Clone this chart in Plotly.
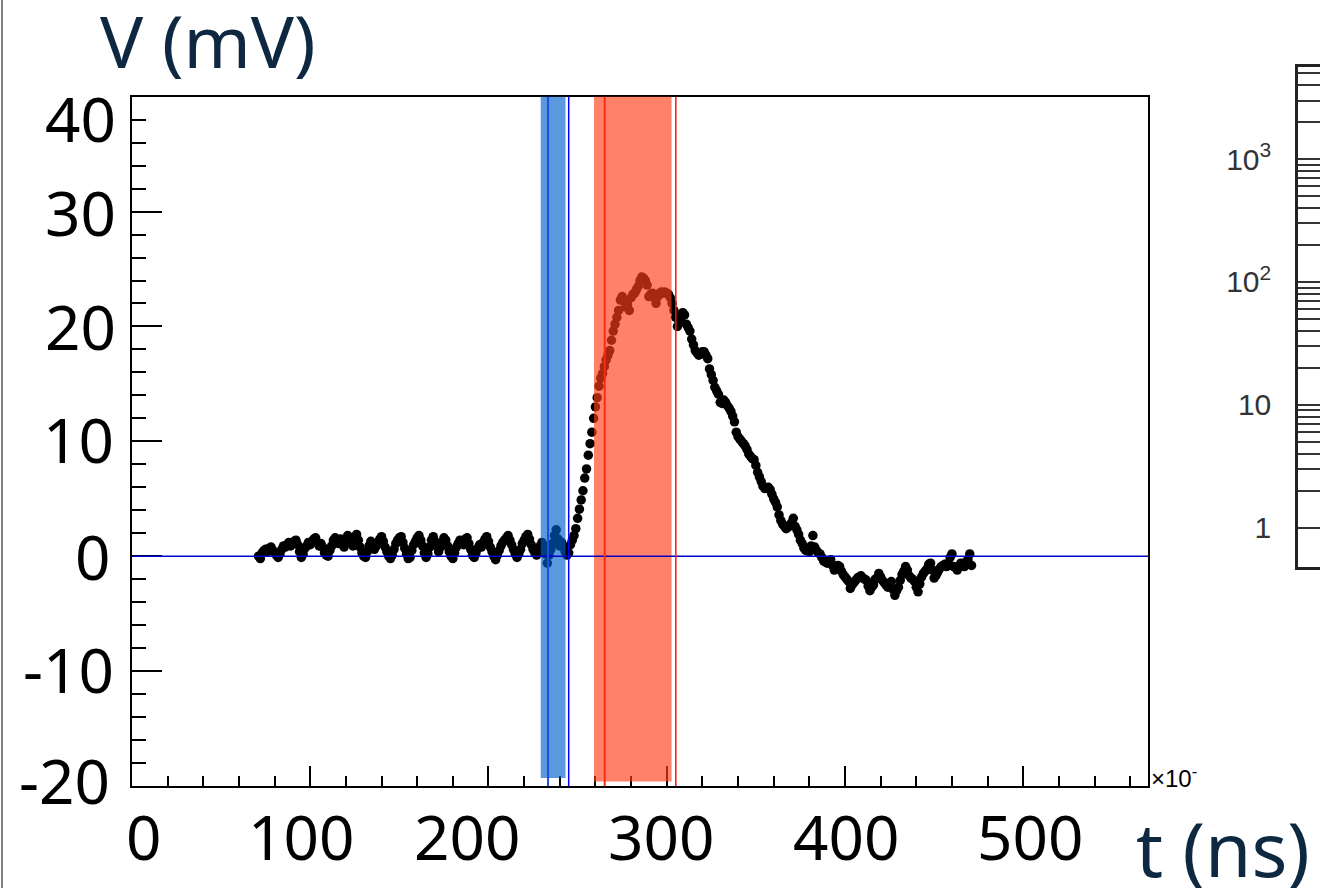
import plotly.graph_objects as go

# ---------------- data ----------------
t_start_ns = 71
t_step_ns = 1
voltage_mV = [
    # 71..80
    0.0, -0.2, 0.3, 0.5, 0.6, 0.4, 0.7, 0.8, 0.5, 0.3,
    # 81..90
    0.1, -0.1, 0.2, 0.6, 0.9, 0.8, 1.0, 1.2, 0.9, 1.1,
    # 91..100
    1.3, 1.4, 1.0, 0.4, -0.1, 0.2, 0.7, 0.9, 1.2, 1.0,
    # 101..110
    1.3, 1.5, 1.6, 1.2, 0.9, 1.1, 0.8, 0.3, 0.1, 0.0,
    # 111..120
    0.5, 0.9, 1.4, 1.6, 1.3, 1.1, 1.5, 1.2, 0.8, 1.4,
    # 121..130
    1.8, 1.6, 1.2, 0.9, 1.5, 1.9, 1.4, 0.8, 0.3, 0.0,
    # 131..140
    -0.1, 0.4, 0.9, 1.3, 1.0, 0.6, 0.9, 1.2, 1.5, 1.7,
    # 141..150
    1.3, 0.8, 0.4, 0.0, -0.2, 0.1, 0.6, 1.1, 1.4, 1.6,
    # 151..160
    1.7, 1.2, 0.7, 0.2, -0.2, -0.1, 0.5, 1.0, 1.3, 1.6,
    # 161..170
    1.8, 1.4, 0.9, 0.3, -0.1, 0.2, 0.8, 1.4, 1.7, 1.3,
    # 171..180
    0.9, 0.4, 0.8, 1.2, 1.6, 1.4, 0.9, 0.4, 0.0, -0.2,
    # 181..190
    0.3, 0.8, 1.1, 1.4, 1.2, 1.0, 1.5, 1.6, 1.1, 0.6,
    # 191..200
    0.1, -0.1, 0.3, 0.7, 1.0, 0.8, 1.2, 1.5, 1.7, 1.3,
    # 201..210
    0.8, 0.4, 0.0, -0.3, 0.1, 0.5, 0.9, 1.2, 1.4, 1.6,
    # 211..220
    1.8, 1.4, 1.0, 0.6, 0.2, -0.1, 0.2, 0.6, 1.1, 1.4,
    # 221..230
    1.7, 1.9, 1.5, 1.0, 0.6, 0.3, 0.1, 0.4, 0.9, 1.2,
    # 231..240
    0.9, 0.2, -0.6, 0.1, 0.6, 1.1, 1.8, 2.3, 1.5, 0.9,
    # 241..250
    1.2, 0.8, 0.4, 0.1, 0.3, 1.0, 1.4, 1.8, 2.4, 3.3,
    # 251..260
    4.1, 4.9, 5.7, 6.8, 7.6, 8.8, 9.8, 10.8, 12.0, 13.0,
    # 261..270
    13.8, 14.8, 15.5, 15.9, 16.5, 17.1, 17.5, 17.9, 18.8, 19.6,
    # 271..280
    20.2, 20.8, 21.4, 22.3, 22.6, 22.2, 21.7, 21.9, 21.4, 22.5,
    # 281..290
    22.8, 22.9, 23.2, 23.5, 24.0, 24.3, 24.2, 24.0, 23.6, 22.6,
    # 291..300
    22.8, 22.9, 22.5, 22.0, 22.6, 22.9, 23.0, 22.9, 23.0, 22.9,
    # 301..310
    22.8, 22.5, 22.0, 21.4, 20.8, 20.0, 20.3, 20.8, 21.2, 21.0,
    # 311..320
    20.2, 19.9, 19.6, 18.9, 18.4, 17.9, 17.7, 17.5, 17.6, 17.8,
    # 321..330
    17.8, 17.5, 17.2, 16.3, 15.8, 15.3, 14.7, 14.4, 14.1, 13.4,
    # 331..340
    13.3, 13.6, 13.4, 13.1, 12.9, 12.6, 12.2, 11.7, 10.8, 10.4,
    # 341..350
    10.2, 10.0, 9.8, 9.6, 9.3, 8.9, 8.7, 8.5, 8.4, 7.9,
    # 351..360
    7.3, 6.9, 6.5, 6.1, 5.9, 5.9, 6.0, 5.8, 5.4, 5.0,
    # 361..370
    4.7, 4.3, 3.6, 3.1, 2.8, 2.6, 2.4, 2.5, 2.7, 2.9,
    # 371..380
    3.3, 2.6, 2.3, 1.9, 1.4, 1.1, 0.7, 0.5, 0.6, 0.4,
    # 381..390
    0.9, 1.8, 0.8, 0.5, 0.3, 0.2, -0.1, -0.4, -0.5, -0.6,
    # 391..400
    -0.4, -0.3, -0.8, -1.2, -1.0, -0.8, -0.9, -1.3, -1.6, -1.8,
    # 401..410
    -2.0, -2.2, -2.8, -2.5, -2.3, -2.1, -1.9, -1.8, -1.7, -1.9,
    # 411..420
    -2.0, -2.1, -2.6, -3.0, -2.7, -2.5, -2.0, -1.9, -1.5, -1.8,
    # 421..430
    -2.1, -2.3, -2.5, -2.7, -2.4, -2.2, -2.9, -3.4, -3.0, -2.7,
    # 431..440
    -2.1, -1.6, -1.3, -0.9, -1.2, -1.7, -1.9, -2.0, -2.2, -2.7,
    # 441..450
    -3.1, -2.4, -1.8, -1.5, -1.3, -1.1, -0.7, -0.6, -1.2, -1.9,
    # 451..460
    -1.7, -1.4, -1.1, -0.9, -0.8, -0.7, -0.9, -0.6, -0.1, 0.2,
    # 461..471
    -0.9, -1.0, -1.2, -0.9, -0.6, -0.7, -0.9, -0.5, -0.3, 0.2, -0.8,
]
time_ns = [t_start_ns + i * t_step_ns for i in range(len(voltage_mV))]

# integration windows (ns) and their marker lines
blue_window_ns = [229.3, 243.2]
blue_window_mV = [-19.3, 40.15]
red_window_ns = [259.2, 302.7]
red_window_mV = [-19.6, 40.2]
blue_lines_ns = [233.4, 245.0]
red_lines_ns = [265.2, 305.1]

x_tick_values = [0, 100, 200, 300, 400, 500]
x_tick_labels = ["0", "100", "200", "300", "400", "500"]
y_tick_values = [40, 30, 20, 10, 0, -10, -20]
y_tick_labels = ["40", "30", "20", "10", "0", "-10", "-20"]

log_decades = [1, 10, 100, 1000]
log_decade_labels = ["1", "10", "10<sup>2</sup>", "10<sup>3</sup>"]
log_sub_multipliers = [2, 3, 4, 5, 6, 7, 8, 9]

# ---------------- figure ----------------
W, H = 1320, 888


def px_x(p):
    return p / W


def px_y(p):
    return 1 - p / H


fig = go.Figure()

fig.add_trace(go.Scatter(
    x=time_ns, y=voltage_mV, mode="markers",
    marker=dict(color="black", size=9.5, line=dict(width=0)),
    xaxis="x", yaxis="y", showlegend=False, hoverinfo="skip",
))

# invisible trace for the partial right-hand log panel
fig.add_trace(go.Scatter(
    x=[0], y=[1], mode="markers", marker=dict(opacity=0),
    xaxis="x2", yaxis="y2", showlegend=False, hoverinfo="skip",
))

shapes = []
# bands (drawn above the points, semi-transparent)
shapes.append(dict(type="rect", xref="x", yref="y", layer="above",
                   x0=blue_window_ns[0], x1=blue_window_ns[1],
                   y0=blue_window_mV[0], y1=blue_window_mV[1],
                   fillcolor="rgba(0,94,203,0.64)", line=dict(width=0)))
shapes.append(dict(type="rect", xref="x", yref="y", layer="above",
                   x0=red_window_ns[0], x1=red_window_ns[1],
                   y0=red_window_mV[0], y1=red_window_mV[1],
                   fillcolor="rgba(254,62,23,0.65)", line=dict(width=0)))
# zero line
shapes.append(dict(type="line", xref="x", yref="y", layer="above",
                   x0=0, x1=570, y0=0, y1=0,
                   line=dict(color="#0000c8", width=1.5)))
# vertical marker lines
shapes.append(dict(type="line", xref="x", yref="y", layer="above",
                   x0=blue_lines_ns[0], x1=blue_lines_ns[0], y0=-20, y1=40,
                   line=dict(color="#1f4fe0", width=2)))
shapes.append(dict(type="line", xref="x", yref="y", layer="above",
                   x0=blue_lines_ns[1], x1=blue_lines_ns[1], y0=-20, y1=40,
                   line=dict(color="#0000ff", width=1.5)))
shapes.append(dict(type="line", xref="x", yref="y", layer="above",
                   x0=red_lines_ns[0], x1=red_lines_ns[0], y0=-20, y1=40,
                   line=dict(color="#ff2a10", width=2)))
shapes.append(dict(type="line", xref="x", yref="y", layer="above",
                   x0=red_lines_ns[1], x1=red_lines_ns[1], y0=-20, y1=40,
                   line=dict(color="#ff1010", width=1.5)))
# slide border on the far left
shapes.append(dict(type="line", xref="paper", yref="paper",
                   x0=px_x(2), x1=px_x(2), y0=0, y1=1,
                   line=dict(color="#808080", width=2)))

annotations = []
label_font = dict(family="Noto Sans", size=62, color="black")
x_label_shift = [11, -9, -21, -6, 1, 7]
for v, lab, dx in zip(x_tick_values, x_tick_labels, x_label_shift):
    annotations.append(dict(x=v, y=px_y(836), xref="x", yref="paper",
                            text=lab, showarrow=False, xanchor="center",
                            yanchor="middle", xshift=dx, font=label_font))
y_label_shift = [-21, 0, 0, 2, 0, 2, 6]
y_label_dx = [0, 0, 0, -2, -6, -2, -6]
for v, lab, dy, dx in zip(y_tick_values, y_tick_labels, y_label_shift, y_label_dx):
    annotations.append(dict(x=px_x(118), y=v, xref="paper", yref="y",
                            text=lab, showarrow=False, xanchor="right",
                            yanchor="middle", yshift=dy, xshift=dx,
                            font=label_font))

title_font = dict(family="Noto Sans", size=72, color="#0e2841")
annotations.append(dict(x=px_x(98), y=px_y(40), xref="paper", yref="paper",
                        text="V (mV)", showarrow=False, xanchor="left",
                        yanchor="middle", font=title_font))
annotations.append(dict(x=px_x(1134), y=px_y(848), xref="paper", yref="paper",
                        text="t (ns)", showarrow=False, xanchor="left",
                        yanchor="middle",
                        font=dict(family="Noto Sans", size=75, color="#0e2841")))
annotations.append(dict(x=px_x(1149), y=px_y(777), xref="paper", yref="paper",
                        text="×10<sup>-</sup>", showarrow=False, xanchor="left",
                        yanchor="middle",
                        font=dict(family="Liberation Sans", size=24, color="black")))

# log panel minor tick values (2..9 within each decade)
log_minor_vals = [d * k for d in log_decades for k in log_sub_multipliers]
log_minor_vals += [10000 * k for k in [1, 2, 3, 4, 5]]

fig.update_layout(
    width=W, height=H, autosize=False,
    margin=dict(l=0, r=0, t=0, b=0),
    paper_bgcolor="white", plot_bgcolor="white",
    shapes=shapes, annotations=annotations,
    xaxis=dict(
        domain=[px_x(132), px_x(1148)], range=[0, 570],
        showgrid=False, zeroline=False, showticklabels=False,
        showline=True, linecolor="black", linewidth=2, mirror=True,
        ticks="inside", tick0=0, dtick=100, ticklen=20, tickwidth=1.5,
        tickcolor="black",
        minor=dict(ticks="inside", dtick=20, ticklen=10, tickwidth=1.5,
                   tickcolor="black", showgrid=False),
    ),
    yaxis=dict(
        domain=[px_y(786), px_y(96.7)], range=[-20, 40],
        showgrid=False, zeroline=False, showticklabels=False,
        showline=True, linecolor="black", linewidth=2, mirror=True,
        ticks="inside", tick0=0, dtick=10, ticklen=30, tickwidth=1.5,
        tickcolor="black",
        minor=dict(ticks="inside", dtick=2, ticklen=14, tickwidth=1.5,
                   tickcolor="black", showgrid=False),
    ),
    xaxis2=dict(
        domain=[px_x(1298), 1.0], range=[0, 1], anchor="y2",
        showgrid=False, zeroline=False, showticklabels=False, ticks="",
        showline=True, linecolor="#222222", linewidth=2.5, mirror=True,
    ),
    yaxis2=dict(
        domain=[px_y(567), px_y(67)], type="log", range=[-0.32, 3.75],
        anchor="x2", showgrid=False, zeroline=False,
        showline=True, linecolor="#222222", linewidth=2.5,
        tickmode="array", tickvals=log_decades, ticktext=log_decade_labels,
        ticks="inside", ticklen=26, tickwidth=1.8, tickcolor="#333333",
        tickfont=dict(family="Liberation Sans", size=30, color="#333333"),
        ticklabelstandoff=18,
        minor=dict(tickmode="array", tickvals=log_minor_vals, ticks="inside",
                   ticklen=26, tickwidth=1.5, tickcolor="#333333",
                   showgrid=False),
    ),
)

fig.write_html("out.html")
